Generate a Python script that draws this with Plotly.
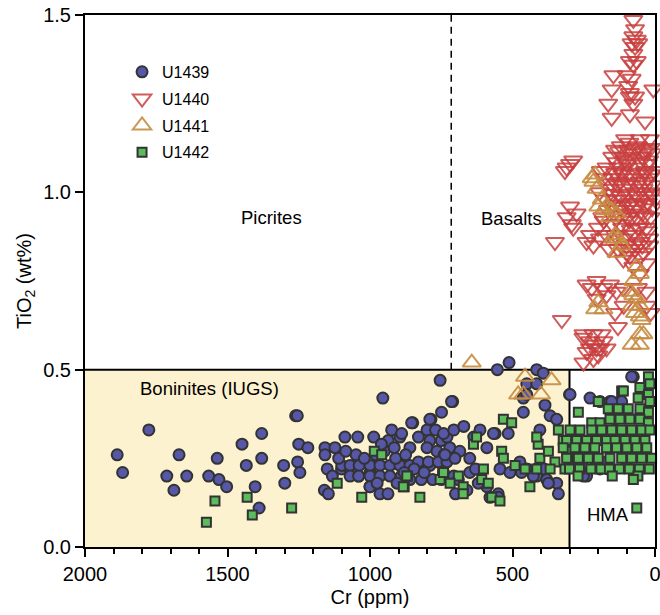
import plotly.graph_objects as go

# ---------------- data ----------------
cr_u1439 = [1887, 1868, 1776, 1670, 1713, 1688, 1643, 1566, 1536, 1530, 1503, 1449, 1434, 1380, 1380, 1403, 1389,
            1303, 1299, 1261, 1255, 1250, 1218, 1254, 1246, 1158, 1158, 1123, 1150, 1132, 1160, 1146, 1088, 1043,
            987, 1049, 1100, 1070, 1050, 1040, 1000, 1000, 955, 754,
            1099, 1070, 1038, 1000, 965, 930, 895, 860, 825, 790,
            1070, 1040, 1000, 965, 930, 890, 860, 1000, 965, 937,
            936, 895, 860, 924, 889, 850, 830, 786, 749, 800, 770, 790, 750, 800, 765, 730, 740,
            830, 795, 760, 730, 820, 780, 750,
            1020, 980, 950, 910, 875, 845, 810, 975, 905, 880, 1110, 1085, 960, 915,
            553, 512, 415, 392, 710, 450, 415, 462, 450, 462, 386, 368, 345, 300, 561, 515, 404,
            742, 706, 671, 636, 614, 590, 720, 685, 650, 702, 737,
            742, 706, 650, 544, 509, 474, 450, 579, 550, 415, 380, 345, 339, 415, 390,
            714, 790, 854, 567, 590, 550, 427, 468, 374, 690, 660, 620, 700, 630,
            298, 76, 228, 193, 158, 123, 240, 193, 164, 205, 170, 269, 251, 257, 205, 158, 99, 82, 117, 152,
            60, 140, 30, 100]
ti_u1439 = [0.26, 0.21, 0.33, 0.26, 0.20, 0.16, 0.20, 0.20, 0.25, 0.19, 0.17, 0.29, 0.23, 0.32, 0.25, 0.17, 0.11,
            0.23, 0.18, 0.37, 0.37, 0.29, 0.28, 0.24, 0.21, 0.28, 0.26, 0.28, 0.22, 0.20, 0.16, 0.15, 0.31, 0.31,
            0.31, 0.26, 0.22, 0.22, 0.21, 0.20, 0.21, 0.17, 0.42, 0.47,
            0.23, 0.23, 0.23, 0.23, 0.23, 0.23, 0.23, 0.23, 0.23, 0.23,
            0.20, 0.20, 0.20, 0.20, 0.20, 0.20, 0.19, 0.17, 0.15, 0.15,
            0.30, 0.31, 0.28, 0.33, 0.32, 0.35, 0.31, 0.36, 0.38, 0.33, 0.33, 0.30, 0.30, 0.28, 0.27, 0.31, 0.26,
            0.24, 0.24, 0.24, 0.24, 0.19, 0.19, 0.19,
            0.25, 0.26, 0.27, 0.25, 0.26, 0.22, 0.21, 0.18, 0.18, 0.21, 0.25, 0.27, 0.29, 0.28,
            0.50, 0.52, 0.50, 0.49, 0.41, 0.46, 0.46, 0.42, 0.43, 0.38, 0.40, 0.37, 0.36, 0.43, 0.32, 0.32, 0.33,
            0.32, 0.33, 0.34, 0.31, 0.33, 0.28, 0.28, 0.27, 0.25, 0.25, 0.26,
            0.21, 0.20, 0.21, 0.22, 0.21, 0.24, 0.22, 0.14, 0.15, 0.20, 0.19, 0.18, 0.15, 0.22, 0.22,
            0.41, 0.36, 0.35, 0.32, 0.17, 0.14, 0.20, 0.21, 0.18, 0.19, 0.16, 0.18, 0.15, 0.22,
            0.43, 0.48, 0.42, 0.41, 0.41, 0.41, 0.20, 0.22, 0.22, 0.24, 0.24, 0.23, 0.20, 0.23, 0.23, 0.22, 0.23, 0.48, 0.41, 0.41,
            0.30, 0.33, 0.38, 0.27]

cr_u1440 = [76, 70, 76, 64, 82, 59, 70, 76, 88, 64, 76, 146, 99, 82, 94, 152, 88, 70, 88, 76, 6, 164, 152, 88, 35,
            105, 53, 18, 287, 310, 298, 316, 298, 310, 275, 292, 287, 351, 228, 240, 216, 193,
            240, 222, 205, 181, 158, 135, 111, 205, 170, 327,
            251, 216, 187, 181, 210, 193, 170, 228, 199, 251, 251, 228, 205, 240, 216,
            29, 88, 53, 29, 111, 76, 53,
            140, 120, 90, 60, 30, 10, 150, 110, 75, 45, 20, 170, 130, 100, 65, 35, 5,
            180, 150, 115, 85, 55, 25, 160, 130, 100, 70, 40, 15, 175, 145, 115, 85, 55, 25, 0,
            165, 135, 105, 75, 45, 15, 180, 150, 120, 90, 60, 30, 170, 140, 110, 80, 50, 20,
            160, 130, 100, 70, 40, 30, 15, 60, 110, 140, 130,
            125, 95, 65, 40, 15, 135, 105, 80, 50, 25, 140, 115, 90, 60, 35, 10, 155, 125, 95, 65, 35, 10,
            150, 120, 95, 65, 35, 10, 145, 115, 90, 60, 35, 10, 125, 95, 65, 35, 115, 85, 55, 25,
            195, 185, 200, 190, 100, 70, 45, 20]
ti_u1440 = [1.486, 1.46, 1.44, 1.43, 1.42, 1.42, 1.41, 1.39, 1.37, 1.37, 1.36, 1.33, 1.33, 1.32, 1.30, 1.29, 1.28,
            1.27, 1.27, 1.25, 1.29, 1.25, 1.21, 1.22, 1.20,
            1.15, 1.15, 1.15, 1.09, 1.07, 1.08, 1.06, 0.96, 0.93, 0.94, 0.91, 0.90, 0.86, 0.88, 0.86, 0.85, 0.87,
            0.74, 0.73, 0.75, 0.73, 0.74, 0.72, 0.73, 0.70, 0.71, 0.64,
            0.60, 0.60, 0.60, 0.58, 0.57, 0.56, 0.56, 0.56, 0.54, 0.52, 0.59, 0.58, 0.56, 0.55, 0.53,
            0.68, 0.82, 0.82, 0.80, 0.81, 0.79, 0.77,
            1.12, 1.13, 1.14, 1.13, 1.12, 1.11, 1.10, 1.10, 1.11, 1.10, 1.09, 1.07, 1.07, 1.08, 1.07, 1.06, 1.06,
            1.04, 1.04, 1.05, 1.04, 1.03, 1.04, 1.01, 1.02, 1.01, 1.00, 1.01, 1.00, 0.98, 0.98, 0.98, 0.97, 0.98, 0.97, 0.98,
            0.95, 0.95, 0.94, 0.95, 0.94, 0.93, 0.92, 0.91, 0.91, 0.92, 0.90, 0.90, 0.88, 0.88, 0.87, 0.88, 0.86, 0.87,
            0.84, 0.84, 0.83, 0.84, 0.83, 0.72, 0.66, 0.73, 0.68, 0.66, 0.62,
            1.115, 1.12, 1.125, 1.115, 1.125, 1.085, 1.09, 1.095, 1.085, 1.08, 1.055, 1.06, 1.055, 1.05, 1.055, 1.05,
            1.025, 1.03, 1.025, 1.02, 1.03, 1.02, 0.995, 0.99, 0.995, 0.99, 0.99, 0.995, 0.965, 0.96, 0.965, 0.96,
            0.965, 0.955, 0.935, 0.93, 0.93, 0.935, 0.9, 0.895, 0.9, 0.89, 1.0, 0.93, 0.9, 1.06, 0.85, 0.855, 0.85, 0.85]

cr_u1441 = [216, 205, 210, 222, 187, 199, 170, 181, 152, 158, 135, 140, 129, 135, 117, 146, 64, 53, 88, 76, 64, 82,
            53, 70, 47, 53, 53, 41, 199, 181, 210, 82, 643, 456, 363, 480, 462, 400, 76, 53]
ti_u1441 = [1.03, 1.01, 1.05, 1.04, 0.98, 0.96, 0.96, 0.95, 0.95, 0.93, 0.94, 0.88, 0.87, 0.83, 0.85, 0.87, 0.79, 0.77,
            0.72, 0.71, 0.70, 0.68, 0.68, 0.66, 0.64, 0.60, 0.57, 0.60, 0.69, 0.67, 0.67, 0.57, 0.52, 0.48, 0.47, 0.43,
            0.43, 0.43, 0.75, 0.65]

cr_u1442 = [1574, 1544, 1431, 1413, 1275, 1115, 1029, 985, 959, 869, 880, 825, 745, 754,
            532, 503, 538, 532, 637, 626, 602, 608, 585, 742, 690, 673, 673, 719, 573, 544, 491, 456, 439, 415, 404,
            410, 415, 374, 351, 339, 322, 310, 304, 316, 368, 871, 883,
            23, 18, 53, 59, 117, 111, 23, 18, 199, 164, 129, 94, 53, 23, 269,
            222, 193, 158, 123, 88, 53, 23,
            298, 263, 222, 187, 152, 117, 82, 47, 18,
            310, 275, 240, 205, 170, 140, 105, 70, 35,
            322, 281, 246, 211, 170, 135, 99, 64, 29,
            310, 269, 234, 199, 158, 117, 82, 47, 12,
            300, 265, 225, 190, 160, 125, 90, 55, 20,
            270, 150, 60, 76, 64]
ti_u1442 = [0.07, 0.13, 0.14, 0.09, 0.11, 0.18, 0.14, 0.27, 0.26, 0.20, 0.17, 0.14, 0.21, 0.19,
            0.36, 0.35, 0.27, 0.25, 0.29, 0.31, 0.22, 0.19, 0.18, 0.21, 0.20, 0.17, 0.15, 0.18, 0.14, 0.13, 0.23, 0.22,
            0.17, 0.22, 0.25, 0.29, 0.31, 0.27, 0.24, 0.33, 0.30, 0.27, 0.25, 0.22, 0.22, 0.20, 0.17,
            0.48, 0.46, 0.45, 0.42, 0.44, 0.44, 0.43, 0.41, 0.41, 0.39, 0.39, 0.39, 0.39, 0.38, 0.38,
            0.35, 0.35, 0.36, 0.36, 0.36, 0.36, 0.35,
            0.33, 0.33, 0.33, 0.33, 0.33, 0.33, 0.33, 0.33, 0.33,
            0.30, 0.30, 0.30, 0.30, 0.30, 0.30, 0.30, 0.30, 0.30,
            0.28, 0.28, 0.28, 0.28, 0.28, 0.28, 0.28, 0.28, 0.28,
            0.25, 0.25, 0.25, 0.25, 0.25, 0.25, 0.25, 0.25, 0.25,
            0.22, 0.22, 0.22, 0.22, 0.22, 0.22, 0.22, 0.22, 0.22,
            0.20, 0.20, 0.20, 0.19, 0.11]

x_ticks = [2000, 1500, 1000, 500, 0]
y_ticks = [0.0, 0.5, 1.0, 1.5]
boninite_cr_max = 2000
boninite_cr_min = 300
boninite_ti_max = 0.5
basalt_picrite_cr = 715

FONT = "Liberation Sans, Arial, Helvetica, sans-serif"
EDGE = "#333333"

fig = go.Figure()
fig.add_trace(go.Scatter(x=cr_u1439, y=ti_u1439, mode="markers", name="U1439", legendgroup="a",
                         cliponaxis=False,
                         marker=dict(symbol="circle", size=11, color="#5757a8",
                                     line=dict(color=EDGE, width=2))))
fig.add_trace(go.Scatter(x=cr_u1440, y=ti_u1440, mode="markers", name="U1440", legendgroup="b",
                         cliponaxis=False,
                         marker=dict(symbol="triangle-down-open", size=16, color="rgba(200,62,62,0.85)",
                                     line=dict(width=2))))
fig.add_trace(go.Scatter(x=cr_u1441, y=ti_u1441, mode="markers", name="U1441", legendgroup="c",
                         cliponaxis=False,
                         marker=dict(symbol="triangle-up-open", size=16, color="rgba(198,140,64,0.9)",
                                     line=dict(width=2))))
fig.add_trace(go.Scatter(x=cr_u1442, y=ti_u1442, mode="markers", name="U1442", legendgroup="d",
                         cliponaxis=False,
                         marker=dict(symbol="square", size=9, color="#5cbb5a",
                                     line=dict(color=EDGE, width=2))))

# field outlines
fig.add_shape(type="rect", x0=boninite_cr_max, x1=boninite_cr_min, y0=0, y1=boninite_ti_max,
              fillcolor="#fcf2cf", line=dict(width=0), layer="below")
fig.add_shape(type="line", x0=boninite_cr_max, x1=0, y0=boninite_ti_max, y1=boninite_ti_max,
              line=dict(color="black", width=2), layer="below")
fig.add_shape(type="line", x0=boninite_cr_min, x1=boninite_cr_min, y0=0, y1=boninite_ti_max,
              line=dict(color="black", width=2), layer="below")
fig.add_shape(type="line", x0=basalt_picrite_cr, x1=basalt_picrite_cr, y0=boninite_ti_max, y1=1.5,
              line=dict(color="black", width=1.5, dash="7px,5px"), layer="below")

for txt, x, y in [("Picrites", 1344, 0.928), ("Basalts", 503, 0.925),
                  ("Boninites (IUGS)", 1563, 0.446), ("HMA", 165, 0.093)]:
    fig.add_annotation(x=x, y=y, text=txt, showarrow=False,
                       font=dict(family=FONT, size=18.5, color="black"))

fig.update_layout(
    width=660, height=615,
    margin=dict(l=85, r=5, t=15, b=68),
    paper_bgcolor="white", plot_bgcolor="white",
    font=dict(family=FONT, color="black"),
    showlegend=True,
    legend=dict(x=0.065, y=0.925, xanchor="left", yanchor="top", bgcolor="rgba(0,0,0,0)",
                font=dict(family=FONT, size=16), tracegroupgap=3, traceorder="grouped"),
    xaxis=dict(range=[2000, 0], tickvals=x_ticks, ticks="outside", ticklen=8, tickwidth=2,
               tickcolor="black", showline=True, linewidth=2, linecolor="black", mirror=True,
               showgrid=False, zeroline=False, tickfont=dict(size=20), automargin=False,
               ticklabeloverflow="allow",
               minor=dict(dtick=100, ticks="outside", ticklen=5, tickwidth=1.5, tickcolor="black",
                          showgrid=False),
               title=dict(text="Cr (ppm)", font=dict(size=20), standoff=6)),
    yaxis=dict(range=[0, 1.5], tickvals=y_ticks, tickformat=".1f", ticks="outside", ticklen=8,
               tickwidth=2, tickcolor="black", showline=True, linewidth=2, linecolor="black",
               mirror=True, showgrid=False, zeroline=False, tickfont=dict(size=20), automargin=False,
               ticklabeloverflow="allow",
               title=dict(text="TiO<sub>2</sub> (wt%)", font=dict(size=20), standoff=6)),
)

fig.write_html("out.html", config={"displayModeBar": False},
               post_script="document.body.style.margin='0';document.body.style.padding='0';"
                           "document.body.style.overflow='hidden';")
